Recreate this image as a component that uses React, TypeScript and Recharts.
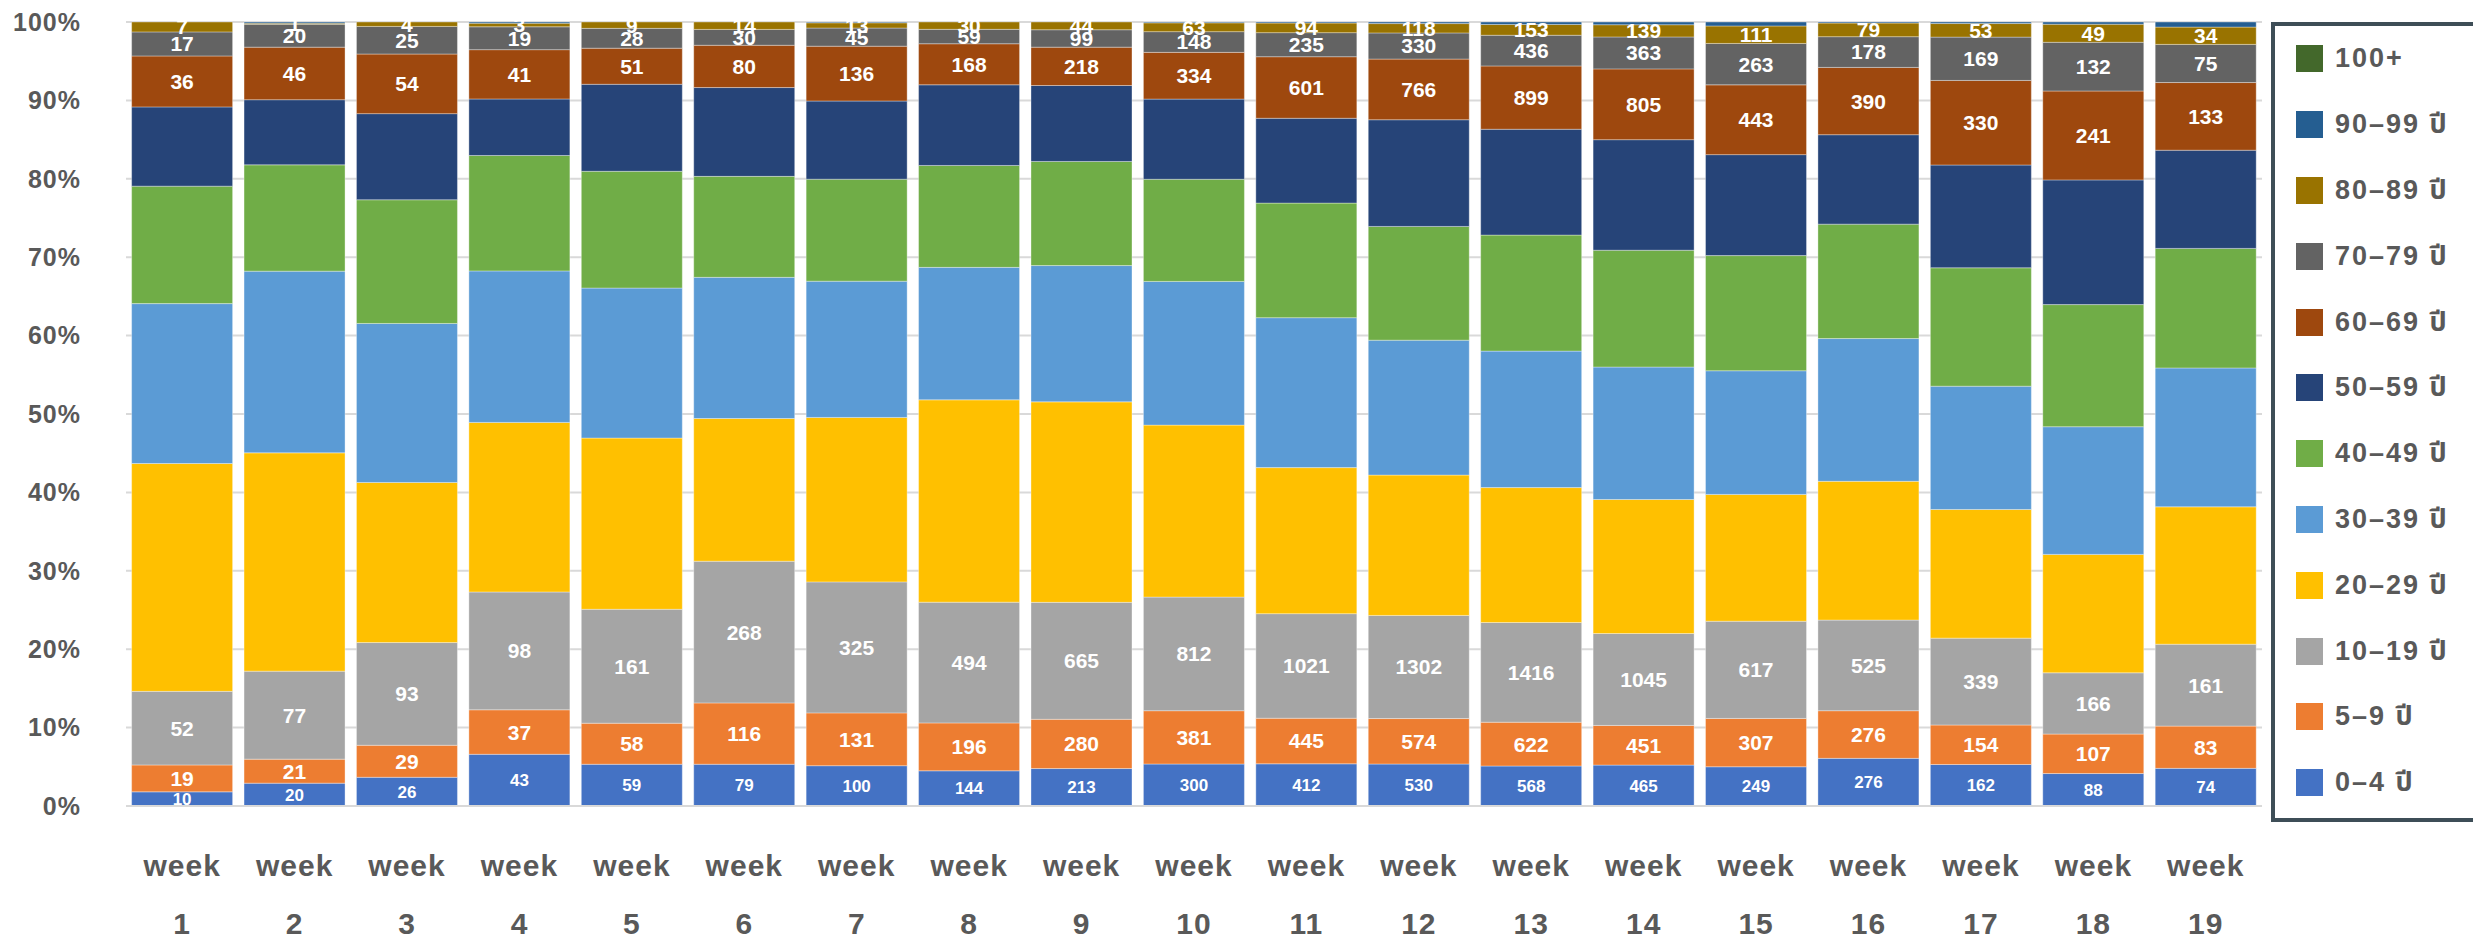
import { BarChart, Bar, XAxis, YAxis, CartesianGrid, LabelList } from 'recharts'

const weeks = ['1', '2', '3', '4', '5', '6', '7', '8', '9', '10', '11', '12', '13', '14', '15', '16', '17', '18', '19']

const age0_4 = [10, 20, 26, 43, 59, 79, 100, 144, 213, 300, 412, 530, 568, 465, 249, 276, 162, 88, 74]
const age5_9 = [19, 21, 29, 37, 58, 116, 131, 196, 280, 381, 445, 574, 622, 451, 307, 276, 154, 107, 83]
const age10_19 = [52, 77, 93, 98, 161, 268, 325, 494, 665, 812, 1021, 1302, 1416, 1045, 617, 525, 339, 166, 161]
const age20_29 = [161, 191, 145, 141, 242, 270, 408, 828, 1140, 1229, 1426, 1772, 1916, 1524, 805, 804, 502, 321, 270]
const age30_39 = [113, 159, 144, 126, 212, 267, 338, 542, 775, 1027, 1464, 1703, 1938, 1506, 785, 827, 481, 346, 273]
const age40_49 = [83, 93, 112, 96, 165, 191, 253, 417, 592, 730, 1119, 1436, 1648, 1328, 731, 663, 462, 331, 235]
const age50_59 = [56, 57, 78, 47, 123, 168, 194, 330, 432, 573, 828, 1347, 1503, 1257, 641, 518, 401, 338, 193]
const age60_69 = [36, 46, 54, 41, 51, 80, 136, 168, 218, 334, 601, 766, 899, 805, 443, 390, 330, 241, 133]
const age70_79 = [17, 20, 25, 19, 28, 30, 45, 59, 99, 148, 235, 330, 436, 363, 263, 178, 169, 132, 75]
const age80_89 = [7, 1, 4, 3, 9, 14, 13, 30, 44, 63, 94, 118, 153, 139, 111, 79, 53, 49, 34]
const age90_99 = [0, 1, 0, 1, 0, 0, 2, 0, 0, 6, 10, 20, 35, 31, 25, 6, 6, 6, 10]
const age100 = [0, 0, 0, 0, 0, 0, 0, 0, 0, 0, 0, 0, 0, 0, 0, 0, 0, 0, 0]

const yTicks = [0, 0.1, 0.2, 0.3, 0.4, 0.5, 0.6, 0.7, 0.8, 0.9, 1]

// bottom to top
const series = [
  { key: 'a0', name: '0–4 ปี', values: age0_4, color: '#4472C4', label: 17 },
  { key: 'a5', name: '5–9 ปี', values: age5_9, color: '#ED7D31', label: 21 },
  { key: 'a10', name: '10–19 ปี', values: age10_19, color: '#A5A5A5', label: 21 },
  { key: 'a20', name: '20–29 ปี', values: age20_29, color: '#FFC000', label: 0 },
  { key: 'a30', name: '30–39 ปี', values: age30_39, color: '#5B9BD5', label: 0 },
  { key: 'a40', name: '40–49 ปี', values: age40_49, color: '#70AD47', label: 0 },
  { key: 'a50', name: '50–59 ปี', values: age50_59, color: '#264478', label: 0 },
  { key: 'a60', name: '60–69 ปี', values: age60_69, color: '#9E480E', label: 21 },
  { key: 'a70', name: '70–79 ปี', values: age70_79, color: '#636363', label: 21 },
  { key: 'a80', name: '80–89 ปี', values: age80_89, color: '#997300', label: 21 },
  { key: 'a90', name: '90–99 ปี', values: age90_99, color: '#255E91', label: 0 },
  { key: 'a100', name: '100+', values: age100, color: '#43682B', label: 0 },
]

const data = weeks.map((w, i) => {
  const row: Record<string, string | number> = { week: w }
  series.forEach((s) => { row[s.key] = s.values[i] })
  return row
})

const FONT = '"Liberation Sans", Arial, "Noto Sans Thai", sans-serif'
const GREY = '#595959'

function WeekTick(props: any) {
  const { x, y, payload } = props
  return (
    <text x={x} textAnchor="middle" fill={GREY} fontSize={30} fontWeight="bold" fontFamily={FONT} letterSpacing={1}>
      <tspan x={x} y={y + 68}>week</tspan>
      <tspan x={x} y={y + 126}>{payload.value}</tspan>
    </text>
  )
}

function AgeLegend() {
  return (
    <div
      style={{
        position: 'absolute', left: 2271, top: 22, width: 260, height: 800,
        border: '4px solid #3e4e57', boxSizing: 'border-box', background: '#fff',
        fontFamily: FONT,
      }}
    >
      {[...series].reverse().map((s) => (
        <div key={s.key} style={{ height: 65.8, display: 'flex', alignItems: 'center' }}>
          <div style={{ width: 27, height: 27, marginLeft: 21, background: s.color }} />
          <span style={{ marginLeft: 12, fontSize: 27, fontWeight: 'bold', color: GREY, letterSpacing: 2, whiteSpace: 'nowrap' }}>
            {s.name}
          </span>
        </div>
      ))}
    </div>
  )
}

export default function App() {
  return (
    <div style={{ position: 'fixed', left: 0, top: 0, width: 2473, height: 937, background: '#fff', overflow: 'hidden' }}>
      <BarChart
        width={2473}
        height={937}
        data={data}
        stackOffset="expand"
        barCategoryGap="5%"
        margin={{ top: 22, right: 211, left: 0, bottom: 0 }}
      >
        <CartesianGrid vertical={false} stroke="#d9d9d9" strokeWidth={2} />
        <XAxis
          dataKey="week"
          height={131}
          tick={<WeekTick />}
          tickLine={false}
          tickSize={0}
          axisLine={{ stroke: '#d9d9d9', strokeWidth: 2 }}
          interval={0}
        />
        <YAxis
          width={126}
          domain={[0, 1]}
          ticks={yTicks}
          tickFormatter={(v: number) => `${Math.round(v * 100)}%`}
          tick={{ fontSize: 25, fill: GREY, fontWeight: 'bold', fontFamily: FONT, letterSpacing: 1 }}
          tickLine={false}
          tickSize={0}
          tickMargin={45}
          axisLine={false}
        />
        {series.map((s) => (
          <Bar
            key={s.key}
            dataKey={s.key}
            name={s.name}
            stackId="age"
            fill={s.color}
            stroke="rgba(255,255,255,0.35)"
            strokeWidth={1}
            isAnimationActive={false}
          >
            {s.label > 0 && (
              <LabelList
                dataKey={s.key}
                position="center"
                fill="#ffffff"
                fontSize={s.label}
                fontWeight="bold"
                fontFamily={FONT}
              />
            )}
          </Bar>
        ))}
      </BarChart>
      <AgeLegend />
    </div>
  )
}
